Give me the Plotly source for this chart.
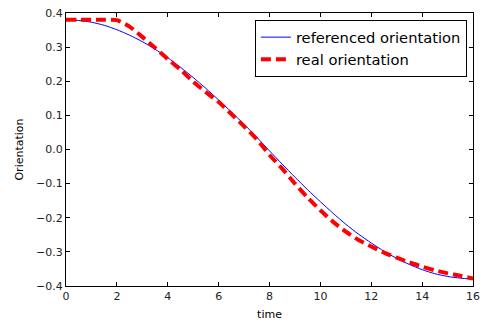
import plotly.graph_objects as go

time_ref = [0.0, 0.5, 1.0, 1.5, 2.0, 2.5, 3.0, 3.5, 4.0, 4.5, 5.0, 5.5, 6.0, 6.5, 7.0, 7.5, 8.0,
            8.5, 9.0, 9.5, 10.0, 10.5, 11.0, 11.5, 12.0, 12.5, 13.0, 13.5, 14.0, 14.5, 15.0, 15.5, 16.0]
referenced_orientation = [0.380, 0.378, 0.373, 0.364, 0.351, 0.335, 0.316, 0.294, 0.269, 0.241, 0.211,
                          0.179, 0.145, 0.110, 0.074, 0.036, -0.004, -0.043, -0.081, -0.118, -0.153,
                          -0.187, -0.219, -0.248, -0.274, -0.298, -0.319, -0.337, -0.352, -0.364,
                          -0.372, -0.377, -0.380]
real_orientation = [0.380, 0.380, 0.380, 0.380, 0.379, 0.360, 0.330, 0.298, 0.265, 0.234, 0.199,
                    0.168, 0.139, 0.104, 0.068, 0.030, -0.016, -0.056, -0.100, -0.141, -0.178,
                    -0.212, -0.241, -0.265, -0.284, -0.302, -0.317, -0.331, -0.343, -0.354,
                    -0.363, -0.370, -0.378]

x_ticks = [0, 2, 4, 6, 8, 10, 12, 14, 16]
y_ticks = [-0.4, -0.3, -0.2, -0.1, 0.0, 0.1, 0.2, 0.3, 0.4]

FONT = "DejaVu Sans"

fig = go.Figure()
fig.add_trace(go.Scatter(x=time_ref, y=referenced_orientation, mode="lines",
                         name="referenced orientation",
                         line=dict(color="#0000ff", width=1, shape="spline", smoothing=0.6)))
fig.add_trace(go.Scatter(x=time_ref, y=real_orientation, mode="lines",
                         name="real orientation",
                         line=dict(color="#ff0000", width=4, dash="10px,5px",
                                   shape="spline", smoothing=0.6)))

axis_common = dict(showgrid=False, zeroline=False, showline=True, linecolor="black", linewidth=1,
                   mirror="ticks", ticks="inside", ticklen=4, tickcolor="black", tickwidth=1,
                   automargin=False,
                   tickfont=dict(family=FONT, size=11, color="#222222"))

fig.update_layout(
    width=484, height=322,
    margin=dict(l=66, r=11, t=13, b=36, autoexpand=False),
    paper_bgcolor="white", plot_bgcolor="white",
    font=dict(family=FONT, size=11, color="black"),
    xaxis=dict(range=[0, 16], tickvals=x_ticks, ticktext=[str(v) for v in x_ticks],
               title=dict(text="time", font=dict(family=FONT, size=11), standoff=8),
               **axis_common),
    yaxis=dict(range=[-0.4, 0.4], tickvals=y_ticks, tickformat=".1f",
               title=dict(text="Orientation", font=dict(family=FONT, size=11), standoff=10),
               **axis_common),
    legend=dict(x=0.985, y=0.974, xanchor="right", yanchor="top",
                bordercolor="black", borderwidth=1, bgcolor="white",
                font=dict(family=FONT, size=14.7, color="black"),
                tracegroupgap=0, itemwidth=30),
    showlegend=True,
)

fig.write_html("out.html", config={"displayModeBar": False},
               post_script="document.body.style.margin='0';document.body.style.overflow='hidden';")
